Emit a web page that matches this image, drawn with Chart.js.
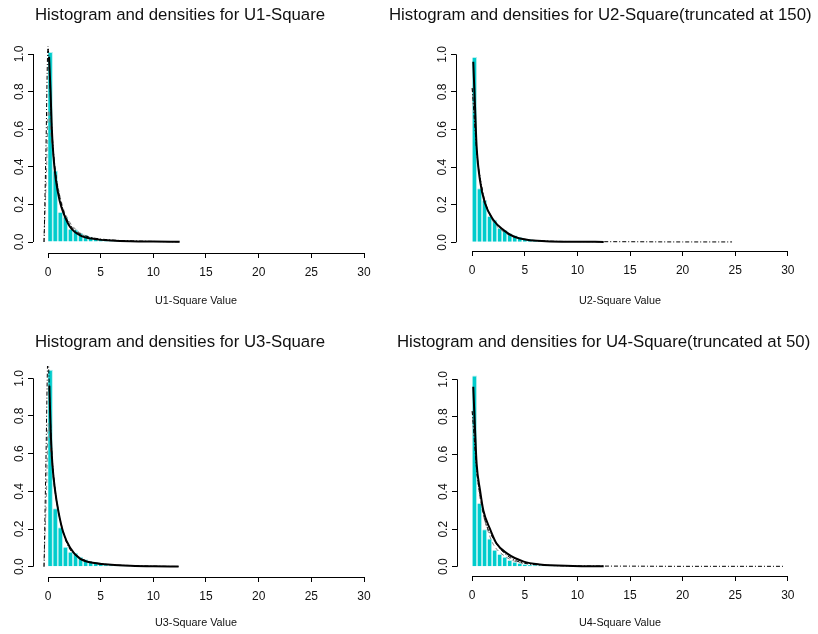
<!DOCTYPE html>
<html>
<head>
<meta charset="utf-8">
<script src="https://cdn.jsdelivr.net/npm/chart.js@4.4.1/dist/chart.umd.min.js"></script>
<style>
  body { margin: 0; background: #fff; }
  #wrap { position: relative; width: 818px; height: 634px; overflow: hidden;
          font-family: "Liberation Sans", Arial, sans-serif; color: #111; }
  #wrap canvas { position: absolute; }
  .ttl { position: absolute; white-space: nowrap; font-size: 16.8px; line-height: 16.8px; }
  .xlab { position: absolute; white-space: nowrap; font-size: 10.8px; line-height: 10.8px; }
</style>
</head>
<body>
<div id="wrap">
  <canvas id="c1" width="409" height="317" style="left:0;top:0"></canvas>
  <canvas id="c2" width="409" height="317" style="left:409px;top:0"></canvas>
  <canvas id="c3" width="409" height="317" style="left:0;top:317px"></canvas>
  <canvas id="c4" width="409" height="317" style="left:409px;top:317px"></canvas>

  <div class="ttl" style="left:35px;top:6.5px">Histogram and densities for U1-Square</div>
  <div class="ttl" style="left:389px;top:6.5px">Histogram and densities for U2-Square(truncated at 150)</div>
  <div class="ttl" style="left:35px;top:334px">Histogram and densities for U3-Square</div>
  <div class="ttl" style="left:397px;top:334px">Histogram and densities for U4-Square(truncated at 50)</div>

  <div class="xlab" style="left:155px;top:295px">U1-Square Value</div>
  <div class="xlab" style="left:579px;top:295px">U2-Square Value</div>
  <div class="xlab" style="left:155px;top:617px">U3-Square Value</div>
  <div class="xlab" style="left:579px;top:617px">U4-Square Value</div>
</div>
<script>
// tick labels
const xTicks = [0, 5, 10, 15, 20, 25, 30];
const yTicks = [0, 0.2, 0.4, 0.6, 0.8, 1.0];

// histogram bin centres (same bins in every panel)
const binMid = [0.24, 0.72, 1.20, 1.68, 2.16, 2.64, 3.12, 3.60, 4.08, 4.56, 5.04,
                5.52, 6.00, 6.48, 6.96, 7.44, 7.92, 8.40, 8.88, 9.36, 9.84];

// histogram heights
const u1Hist = [1.01, 0.38, 0.16, 0.135, 0.07, 0.067, 0.048, 0.038, 0.028, 0.02, 0.016,
                0.012, 0.009, 0.007, 0.006, 0.005, 0.004, 0.003, 0.002];
const u2Hist = [0.985, 0.287, 0.225, 0.14, 0.12, 0.078, 0.065, 0.048, 0.038, 0.028, 0.02,
                0.017, 0.012, 0.01, 0.008, 0.006, 0.005, 0.004, 0.003, 0.003, 0.002];
const u3Hist = [1.045, 0.31, 0.21, 0.106, 0.08, 0.074, 0.053, 0.04, 0.027, 0.023, 0.018,
                0.012, 0.01, 0.008, 0.006, 0.005, 0.004, 0.003, 0.002];
const u4Hist = [1.02, 0.34, 0.2, 0.15, 0.09, 0.068, 0.053, 0.036, 0.027, 0.02, 0.015,
                0.012, 0.01, 0.008, 0.006, 0.005, 0.004, 0.003, 0.003, 0.002];

// fitted density (solid)
const u1FitX = [0.1, 0.25, 0.35, 0.5, 0.75, 1.1, 1.5, 2.1, 3.0, 4.6, 6.0, 7.8, 10.0, 12.5];
const u1FitY = [0.985, 0.79, 0.62, 0.47, 0.33, 0.22, 0.15, 0.08, 0.037, 0.014, 0.008, 0.004, 0.002, 0.001];
const u2FitX = [0.1, 0.27, 0.42, 0.74, 1.2, 2.0, 2.95, 3.9, 5.2, 7.0, 10.0, 12.5];
const u2FitY = [0.96, 0.72, 0.51, 0.33, 0.21, 0.12, 0.066, 0.032, 0.013, 0.006, 0.003, 0.002];
const u3FitX = [0.13, 0.25, 0.41, 0.66, 1.0, 1.46, 2.1, 3.0, 4.6, 6.0, 7.8, 10.0, 12.4];
const u3FitY = [0.96, 0.73, 0.55, 0.41, 0.29, 0.18, 0.1, 0.044, 0.018, 0.01, 0.005, 0.002, 0.001];
const u4FitX = [0.1, 0.27, 0.42, 0.74, 1.06, 1.7, 2.3, 3.3, 4.9, 6.4, 9.6, 12.5];
const u4FitY = [0.96, 0.73, 0.55, 0.41, 0.3, 0.2, 0.125, 0.071, 0.027, 0.012, 0.004, 0.002];

// kernel density (dash-dot)
const u1KdeX = [-0.37, -0.2, 0.0, 0.15, 0.35, 0.6, 1.0, 1.5, 2.0, 2.4, 3.0, 4.0, 5.0, 6.5, 8.0, 10.0, 12.5];
const u1KdeY = [0.0, 0.48, 1.04, 0.88, 0.62, 0.43, 0.27, 0.16, 0.1, 0.07, 0.045, 0.025, 0.016, 0.009, 0.006, 0.003, 0.001];
const u2KdeX = [0.0, 0.2, 0.45, 0.8, 1.2, 2.0, 3.0, 4.0, 5.0, 7.0, 10.0, 15.0, 20.0, 24.7];
const u2KdeY = [0.82, 0.66, 0.47, 0.33, 0.22, 0.12, 0.062, 0.032, 0.016, 0.007, 0.004, 0.003, 0.002, 0.002];
const u3KdeX = [-0.37, -0.2, 0.0, 0.15, 0.35, 0.6, 1.0, 1.5, 2.0, 2.4, 3.0, 4.0, 5.0, 6.5, 8.0, 10.0, 12.4];
const u3KdeY = [0.0, 0.55, 1.12, 0.9, 0.62, 0.45, 0.29, 0.17, 0.1, 0.07, 0.046, 0.025, 0.016, 0.009, 0.006, 0.003, 0.001];
const u4KdeX = [0.0, 0.2, 0.45, 0.8, 1.2, 2.0, 3.0, 4.0, 5.0, 7.0, 10.0, 15.0, 20.0, 25.0, 29.7];
const u4KdeY = [0.83, 0.68, 0.5, 0.37, 0.25, 0.15, 0.075, 0.036, 0.018, 0.008, 0.004, 0.003, 0.002, 0.002, 0.002];

// second estimate (grey dashed)
const u1AltX = [-0.4, -0.15, 0.03, 0.3, 0.6, 1.0, 1.5, 2.0, 3.0, 4.0, 5.0];
const u1AltY = [0.0, 0.36, 0.70, 0.56, 0.41, 0.28, 0.17, 0.11, 0.05, 0.026, 0.014];
const u2AltX = [0.0, 0.3, 0.6, 1.0, 1.5, 2.0, 3.0, 4.0, 5.0];
const u2AltY = [0.82, 0.58, 0.4, 0.27, 0.17, 0.11, 0.055, 0.028, 0.015];
const u3AltX = [-0.4, -0.15, 0.03, 0.3, 0.6, 1.0, 1.5, 2.0, 3.0, 4.0, 5.0];
const u3AltY = [0.0, 0.38, 0.76, 0.58, 0.42, 0.29, 0.18, 0.11, 0.05, 0.026, 0.014];
const u4AltX = [0.0, 0.3, 0.6, 1.0, 1.5, 2.0, 3.0, 4.0, 5.0];
const u4AltY = [0.83, 0.6, 0.42, 0.29, 0.19, 0.12, 0.06, 0.03, 0.016];

const FONT = '"Liberation Sans", Arial, sans-serif';
const W = 409, H = 317;

// draws R-style axis lines only between first and last tick
const axisLines = {
  id: 'axisLines',
  afterDraw(chart) {
    const { ctx, chartArea, scales: { x, y } } = chart;
    const bx = Math.floor(chartArea.left) + 0.5;
    const by = Math.floor(chartArea.bottom) + 0.5;
    ctx.save();
    ctx.strokeStyle = '#000';
    ctx.lineWidth = 1;
    ctx.beginPath();
    ctx.moveTo(x.getPixelForValue(xTicks[0]), by);
    ctx.lineTo(x.getPixelForValue(xTicks[xTicks.length - 1]), by);
    ctx.moveTo(bx, y.getPixelForValue(yTicks[0]));
    ctx.lineTo(bx, y.getPixelForValue(yTicks[yTicks.length - 1]));
    ctx.stroke();
    ctx.restore();
  }
};

function pts(xs, ys) {
  return xs.map((v, i) => ({ x: v, y: ys[i] }));
}

// value at pixel a, given two reference pixels p0 -> v0, p1 -> v1
function valAt(a, p0, p1, v0, v1) {
  return v0 + (a - p0) * (v1 - v0) / (p1 - p0);
}

function makeChart(id, hist, fitX, fitY, kdeX, kdeY, altX, altY, box) {
  const xMin = valAt(box.left, box.x0, box.x30, 0, 30);
  const xMax = valAt(box.right, box.x0, box.x30, 0, 30);
  const yMin = valAt(box.bottom, box.y0, box.y1, 0, 1);
  const yMax = valAt(box.top, box.y0, box.y1, 0, 1);

  new Chart(document.getElementById(id), {
    data: {
      datasets: [
        {
          type: 'line', data: pts(fitX, fitY), borderColor: '#000', borderWidth: 2,
          pointRadius: 0, cubicInterpolationMode: 'monotone', order: 0
        },
        {
          type: 'line', data: pts(kdeX, kdeY), borderColor: '#000', borderWidth: 1,
          borderDash: [4, 2, 1, 2], pointRadius: 0, cubicInterpolationMode: 'monotone', order: 1
        },
        {
          type: 'line', data: pts(altX, altY), borderColor: '#808080', borderWidth: 1,
          borderDash: [4, 3], pointRadius: 0, cubicInterpolationMode: 'monotone', order: 2
        },
        {
          type: 'bar', data: hist.map((h, i) => ({ x: binMid[i], y: h })),
          backgroundColor: '#00CCCC', borderColor: '#B4F0F0',
          borderWidth: { top: 1, right: 1, left: 0, bottom: 0 },
          barPercentage: 0.94, categoryPercentage: 1.0, order: 3
        }
      ]
    },
    options: {
      responsive: false,
      animation: false,
      events: [],
      layout: { padding: { top: box.top, right: W - box.right, left: 0, bottom: 0 } },
      plugins: { legend: { display: false }, tooltip: { enabled: false } },
      scales: {
        x: {
          type: 'linear', min: xMin, max: xMax, offset: false,
          afterBuildTicks: s => { s.ticks = xTicks.map(v => ({ value: v })); },
          afterFit: s => { s.height = H - box.bottom; },
          border: { display: false },
          grid: { display: true, offset: false, drawOnChartArea: false, drawTicks: true, tickLength: 5, color: '#000' },
          ticks: { autoSkip: false, maxRotation: 0, padding: 7, color: '#111',
                   font: { family: FONT, size: 12 }, callback: v => String(v) }
        },
        y: {
          type: 'linear', min: yMin, max: yMax, offset: false,
          afterBuildTicks: s => { s.ticks = yTicks.map(v => ({ value: v })); },
          afterFit: s => { s.width = box.left; },
          border: { display: false },
          grid: { display: true, offset: false, drawOnChartArea: false, drawTicks: true, tickLength: 5, color: '#000' },
          ticks: { minRotation: 90, maxRotation: 90, crossAlign: 'center', padding: 0, color: '#111',
                   font: { family: FONT, size: 12 }, callback: v => v.toFixed(1) }
        }
      }
    },
    plugins: [axisLines]
  });
}

makeChart('c1', u1Hist, u1FitX, u1FitY, u1KdeX, u1KdeY, u1AltX, u1AltY,
  { left: 33, right: 377, top: 42, bottom: 253, x0: 48, x30: 364, y0: 242, y1: 54 });
makeChart('c2', u2Hist, u2FitX, u2FitY, u2KdeX, u2KdeY, u2AltX, u2AltY,
  { left: 47, right: 391, top: 42, bottom: 251, x0: 63.2, x30: 378.8, y0: 242.3, y1: 54.3 });
makeChart('c3', u3Hist, u3FitX, u3FitY, u3KdeX, u3KdeY, u3AltX, u3AltY,
  { left: 33, right: 377, top: 49, bottom: 260, x0: 48, x30: 364, y0: 249.7, y1: 61.3 });
makeChart('c4', u4Hist, u4FitX, u4FitY, u4KdeX, u4KdeY, u4AltX, u4AltY,
  { left: 48, right: 391, top: 49, bottom: 259, x0: 63.2, x30: 378.8, y0: 249.7, y1: 62.3 });
</script>
</body>
</html>
